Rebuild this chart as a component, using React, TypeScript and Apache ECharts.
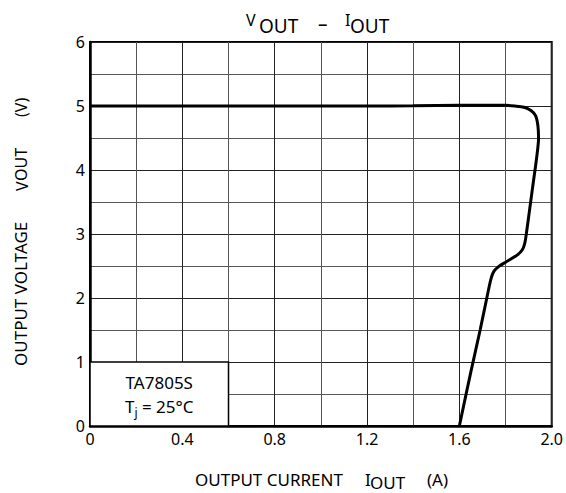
import React, { useEffect, useRef } from "react";
import * as echarts from "echarts";

// Output current (A) and output voltage (V)
const currentA = [0, 0.4, 0.8, 1.2, 1.4, 1.6, 1.75, 1.8, 1.84, 1.88, 1.91, 1.93, 1.94, 1.943, 1.935, 1.92, 1.905, 1.89, 1.883, 1.872, 1.85, 1.8, 1.77, 1.75, 1.737, 1.72, 1.69, 1.65, 1.6];
const voltageV = [5.0, 5.0, 5.0, 5.0, 5.003, 5.01, 5.01, 5.01, 5.0, 4.98, 4.93, 4.85, 4.7, 4.5, 4.2, 3.8, 3.4, 3.0, 2.85, 2.75, 2.67, 2.56, 2.49, 2.42, 2.3, 2.02, 1.5, 0.85, 0];

const xTicks = [0, 0.4, 0.8, 1.2, 1.6, 2.0];
const yTicks = [0, 1, 2, 3, 4, 5, 6];
const deviceName = "TA7805S";
const junctionTemp = "25°C";

const FONT = "Noto Sans";
const MID = 0.388; // em-centre above baseline for Noto Sans

function txt(text: string, x: number, baseline: number, size: number, rotate = false) {
  const style = {
    text,
    fontFamily: FONT,
    fontSize: size,
    fill: "#000",
    align: "left",
    verticalAlign: "middle",
    textAlign: "left",
    textVerticalAlign: "middle",
  };
  if (rotate) {
    // rotated 90° CCW: x = start y (reading upward), baseline = baseline x (right side)
    return { type: "text", x: baseline - MID * size, y: x, rotation: Math.PI / 2, silent: true, style };
  }
  return { type: "text", x, y: baseline - MID * size, silent: true, style };
}

export default function App() {
  const ref = useRef<HTMLDivElement>(null);
  useEffect(() => {
    if (!ref.current) return;
    const chart = echarts.init(ref.current, undefined, { renderer: "svg" });
    const data = currentA.map((x, i) => [x, voltageV[i]]);
    chart.setOption({
      animation: false,
      backgroundColor: "#fff",
      graphic: [
        // title  V_OUT – I_OUT
        txt("V", 246, 26, 16),
        txt("OUT", 259, 33, 19),
        txt("–", 318, 31, 19),
        txt("I", 345, 26, 16),
        txt("OUT", 350, 33, 19),
        // x axis name
        txt("OUTPUT CURRENT", 195, 486, 17),
        txt("I", 365, 486, 17),
        txt("OUT", 370, 489, 17),
        txt("(A)", 427, 486, 17),
        // y axis name (rotated)
        txt("OUTPUT VOLTAGE", 366, 27, 17, true),
        txt("V", 191, 28, 16, true),
        txt("OUT", 181, 27, 16, true),
        txt("(V)", 117, 27, 16, true),
      ],
      grid: {
        left: 90,
        right: 14,
        top: 42,
        bottom: 67,
        show: true,
        borderColor: "#000",
        borderWidth: 2,
        backgroundColor: "transparent",
      },
      xAxis: {
        type: "value",
        min: xTicks[0],
        max: xTicks[xTicks.length - 1],
        interval: 0.4,
        axisLine: { show: true, lineStyle: { color: "#000", width: 2.5 } },
        axisTick: { show: false },
        axisLabel: {
          margin: 5,
          fontFamily: FONT,
          fontSize: 16,
          color: "#000",
          formatter: (v: number) => (v === 0 ? "0" : v.toFixed(1)),
        },
        splitLine: { show: true, lineStyle: { color: "#222", width: 1 } },
        minorTick: { show: false, splitNumber: 2 },
        minorSplitLine: { show: true, lineStyle: { color: "#555", width: 1 } },
      },
      yAxis: {
        type: "value",
        min: yTicks[0],
        max: yTicks[yTicks.length - 1],
        interval: 1,
        axisLine: { show: true, lineStyle: { color: "#000", width: 2.5 } },
        axisTick: { show: false },
        axisLabel: {
          margin: 5,
          fontFamily: FONT,
          fontSize: 16,
          color: "#000",
        },
        splitLine: { show: true, lineStyle: { color: "#222", width: 1 } },
        minorTick: { show: false, splitNumber: 2 },
        minorSplitLine: { show: true, lineStyle: { color: "#555", width: 1 } },
      },
      series: [
        {
          type: "line",
          data,
          showSymbol: false,
          smooth: 0.3,
          lineStyle: { color: "#000", width: 3 },
          markArea: {
            silent: true,
            itemStyle: { color: "#fff", borderColor: "#000", borderWidth: 1.5, opacity: 1 },
            label: {
              show: true,
              position: "inside",
              formatter: `{a|${deviceName}}\n{a|T}{s|j}{a| = ${junctionTemp}}`,
              rich: {
                a: { fontFamily: FONT, fontSize: 17, lineHeight: 24, verticalAlign: "middle", color: "#000" },
                s: { fontFamily: FONT, fontSize: 12, lineHeight: 24, verticalAlign: "bottom", color: "#000" },
              },
            },
            data: [[{ coord: [0, 0] }, { coord: [0.6, 1] }]],
          },
        },
      ],
    });
    return () => chart.dispose();
  }, []);
  return (
    <div
      ref={ref}
      style={{ position: "absolute", left: 0, top: 0, width: 566, height: 493 }}
    />
  );
}
